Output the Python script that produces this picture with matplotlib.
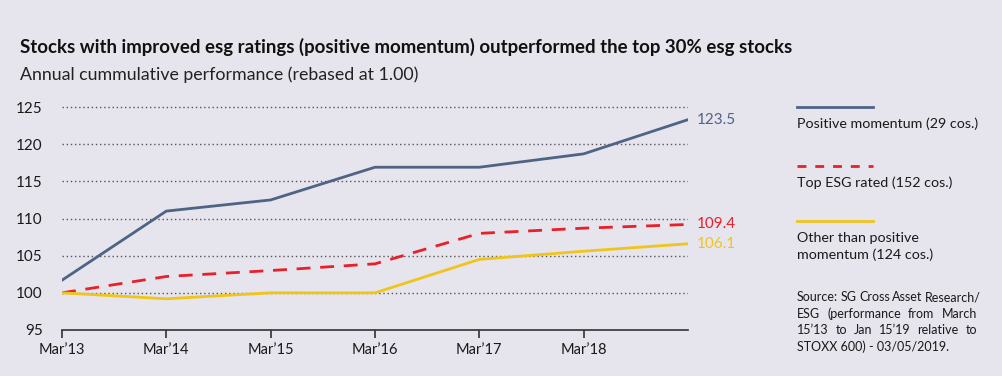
import matplotlib
matplotlib.use("Agg")
import matplotlib.pyplot as plt
from matplotlib.lines import Line2D

plt.rcParams['font.family'] = ['Lato', 'DejaVu Sans']

periods = ["Mar'13", "Mar'14", "Mar'15", "Mar'16", "Mar'17", "Mar'18", "Jan'19"]
tick_labels = ["Mar\u201913", "Mar\u201914", "Mar\u201915", "Mar\u201916", "Mar\u201917", "Mar\u201918"]
positive_momentum = [101.7, 111.0, 112.5, 116.9, 116.9, 118.7, 123.3]
top_esg = [100.0, 102.2, 103.0, 103.9, 108.0, 108.7, 109.2]
other = [100.0, 99.2, 100.0, 100.0, 104.5, 105.6, 106.6]
end_labels = ["123.5", "109.4", "106.1"]
yticks = [95, 100, 105, 110, 115, 120, 125]

BG = '#e6e4ec'
BLUE = '#4f6385'
RED = '#e8202a'
YELLOW = '#f0c51a'
TXT = '#1a1a1a'

W, H = 1003, 376
fig = plt.figure(figsize=(W/100, H/100), dpi=100, facecolor=BG)
ax = fig.add_axes([62/W, 1-330/H, (688-62)/W, (330-99.6)/H])
ax.set_facecolor(BG)

x = list(range(len(periods)))
ax.set_xlim(0, 6)
ax.set_ylim(95, 126)

for yv in yticks[1:]:
    ax.axhline(yv, color='#555555', lw=1.0, ls=(0, (1, 2)), zorder=1)

ax.plot(x, positive_momentum, color=BLUE, lw=2.0, zorder=3)
ax.plot(x, top_esg, color=RED, lw=2.0, ls=(0, (5, 3.5)), zorder=3)
ax.plot(x, other, color=YELLOW, lw=2.0, zorder=3)

for s in ['top', 'right', 'left']:
    ax.spines[s].set_visible(False)
ax.spines['bottom'].set_color('#333333')
ax.spines['bottom'].set_linewidth(1.2)

ax.set_xticks(x[:6])
ax.set_xticklabels(tick_labels, fontsize=10.5, color=TXT)
ax.tick_params(axis='x', direction='out', length=6, width=1.2, color='#333333', pad=3)
ax.set_yticks(yticks)
ax.set_yticklabels([str(v) for v in yticks], fontsize=11, color=TXT)
ax.tick_params(axis='y', length=0, pad=14)

# end labels
for vals, lab, col in [(positive_momentum, end_labels[0], BLUE),
                       (top_esg, end_labels[1], RED),
                       (other, end_labels[2], YELLOW)]:
    ax.annotate(lab, xy=(6, vals[-1]), xytext=(6, 0), textcoords='offset points',
                fontsize=11, color=col, va='center', ha='left', annotation_clip=False)

# titles
fig.text(20/W, 1-47/H, "Stocks with improved esg ratings (positive momentum) outperformed the top 30% esg stocks",
         fontsize=13.4, fontweight='bold', color='#111111', va='center', ha='left')
fig.text(20/W, 1-75/H, "Annual cummulative performance (rebased at 1.00)",
         fontsize=12.8, fontweight='normal', color='#222222', va='center', ha='left')

# legend
lx0, lx1 = 797/W, 873/W
fig.add_artist(Line2D([lx0, lx1], [1-107/H]*2, color=BLUE, lw=2.0))
fig.add_artist(Line2D([lx0, lx1], [1-166/H]*2, color=RED, lw=2.0, ls=(0, (3.2, 3.2))))
fig.add_artist(Line2D([lx0, lx1], [1-221/H]*2, color=YELLOW, lw=2.0))
LFS = 10.3
fig.text(lx0, 1-124/H, "Positive momentum (29 cos.)", fontsize=LFS, color=TXT, va='center')
fig.text(lx0, 1-183/H, "Top ESG rated (152 cos.)", fontsize=LFS, color=TXT, va='center')
fig.text(lx0, 1-238/H, "Other than positive", fontsize=LFS, color=TXT, va='center')
fig.text(lx0, 1-255/H, "momentum (124 cos.)", fontsize=LFS, color=TXT, va='center')

src = ["Source: SG Cross Asset Research/",
       "ESG (performance from March",
       "15\u201913 to Jan 15\u201919 relative to",
       "STOXX 600) - 03/05/2019."]
SFS = 9.0
right_px = 977
renderer = fig.canvas.get_renderer()
for i, line in enumerate(src):
    yy = 1-(297+16.5*i)/H
    if i == len(src) - 1:
        fig.text(lx0, yy, line, fontsize=SFS, color=TXT, va='center')
        continue
    words = line.split(' ')
    arts = [fig.text(0, yy, w, fontsize=SFS, color=TXT, va='center') for w in words]
    widths = [a.get_window_extent(renderer).width for a in arts]
    total = sum(widths)
    gap = max((right_px - 797 - total) / (len(words) - 1), 2.5)
    xpos = 797.0
    for a, wdt in zip(arts, widths):
        a.set_x(xpos / W)
        xpos += wdt + gap

fig.savefig('out.png', dpi=100, facecolor=BG)
